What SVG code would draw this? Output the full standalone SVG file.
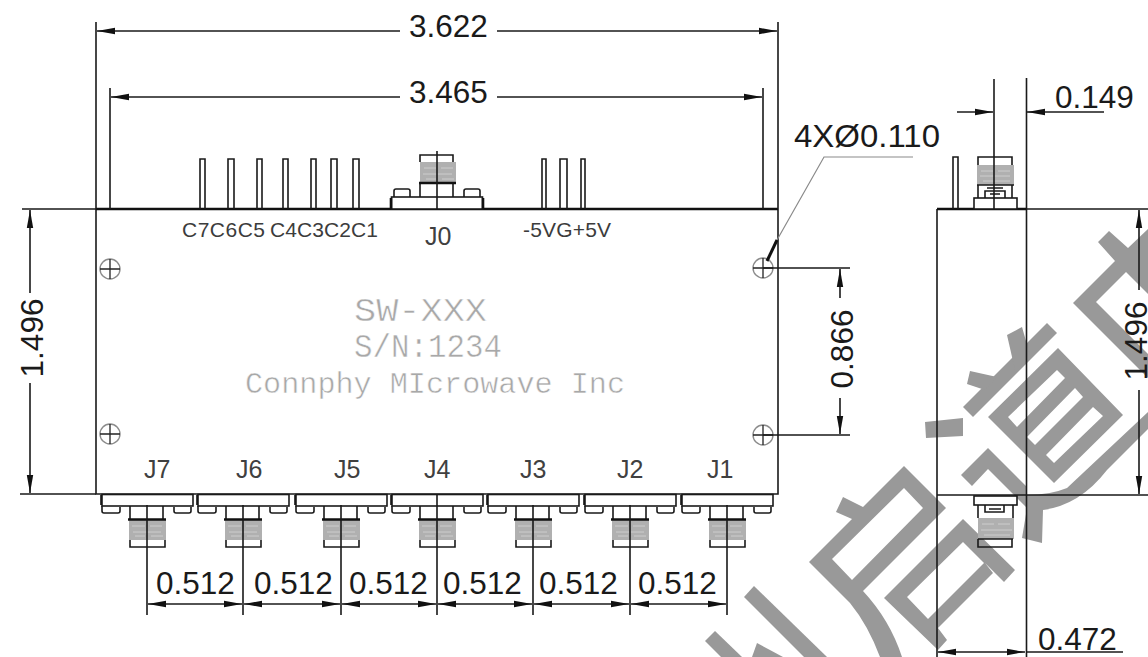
<svg xmlns="http://www.w3.org/2000/svg" xmlns:xlink="http://www.w3.org/1999/xlink" width="1148" height="657" viewBox="0 0 1148 657">
<style>
.l{fill:none;stroke:#1a1a1a;stroke-width:1.6}
.h{fill:none;stroke:#111;stroke-width:2.6}
.t{fill:#b0b0b0;stroke:none}
.tl{stroke:#cdcdcd;stroke-width:1;fill:none}
.f{fill:#fff;stroke:#1a1a1a;stroke-width:1.6}
.d{fill:none;stroke:#1a1a1a;stroke-width:1.6;marker-end:url(#a)}
.n{font-family:"Liberation Sans",Arial,sans-serif;font-size:31.5px;fill:#1a1a1a}
.s{font-family:"Liberation Sans",Arial,sans-serif;font-size:21px;fill:#3c3c3c}
.j{font-family:"Liberation Sans",Arial,sans-serif;font-size:25px;fill:#404040}
.e{font-family:"Liberation Mono",monospace;fill:#a8a8a8;stroke:#fff;stroke-width:.5}
.w{fill:#999;fill-rule:evenodd}
.hole{fill:none;stroke:#8c8c8c;stroke-width:1.4}
.cr{fill:none;stroke:#222;stroke-width:1.3}
</style>
<defs>
<marker id="a" markerUnits="userSpaceOnUse" markerWidth="20" markerHeight="8" refX="18" refY="4" orient="auto"><path d="M0 .8L18 4L0 7.2Z" fill="#111"/></marker>
<g id="conn">
<path class="h" d="M-45.500 495V505"/>
<rect class="f" x="-45" y="494.500" width="91" height="11.500"/>
<path class="l" d="M-45 506V511Q-45 513-43 513H-29Q-27 513-27 511V507M27 507V511Q27 513 29 513H42Q44 513 44 511V507"/>
<path class="l" d="M-17 506V519M16 506V519"/>
<rect class="t" x="-18" y="520" width="37" height="20"/>
<path class="tl" d="M-15 526H-2M3 526H15M-14 532H14M-12 536H-2M4 536H16"/>
<path class="h" d="M-19 519.500H19"/>
<path class="l" d="M-17 540V547H18V540"/>
</g>
<g id="hole"><circle class="hole" cx="0" cy="0" r="10"/><path class="cr" d="M-10 0H10M0-10V10"/></g>
</defs>

<g id="watermark">
<path class="w" d="M904 466L946 508L863 591Q890 620 902 657H880Q868 625 850 603L809 562L852 519L836 512L843 497L863 507ZM904 488L832 559L852 580L923 508Z"/>
<path class="w" d="M884 598L963 519L1015 570L1004 582L985 563L993 573L938 628L947 640L938 650ZM963 542L907 597L928 619L984 563Z"/>
<path class="w" d="M925 422L963 418L963 436L926 438Z"/>
<path class="w" d="M961 475L988 448L1027 487L1027 495Q1050 495 1067 488L1148 412V429L1107 470Q1080 505 1043 510L1042 543L1022 538L1027 508L988 469L972 486Z"/>
<path class="w" d="M1058 348L1123 415L1054 483L988 417ZM1057 370L1008 417L1017 427L1065 378ZM1075 388L1027 437L1035 445L1083 397ZM1093 407L1046 455L1054 463L1103 416Z"/>
<path class="w" d="M1047 323L1057 333L973 417L963 407Z"/>
<path class="w" d="M1007 335L1022 327L1030 355L1015 370Z"/>
<path class="w" d="M970 371L997 377L985 390L967 384Z"/>
<path class="w" d="M1073 303L1115 261L1098 242L1109 231L1128 248L1148 229V378ZM1096 302L1126 272L1148 294V354Z"/>
<path class="w" d="M744 597L754 586L827 657H804Z"/>
<path class="w" d="M705 641L715 631L742 657H721Z"/>
<path class="w" d="M752 657L757 643L783 657Z"/>
</g>

<g id="main-body">
<path class="l" d="M96 209V494H778V209"/>
<path class="h" d="M96 209H778" stroke-width="2"/>
<use xlink:href="#hole" href="#hole" x="110" y="269"/>
<use xlink:href="#hole" href="#hole" x="110" y="434"/>
<use xlink:href="#hole" href="#hole" x="763" y="268"/>
<use xlink:href="#hole" href="#hole" x="763" y="435"/>
<text class="e" x="354" y="321" font-size="34" textLength="133" lengthAdjust="spacingAndGlyphs">SW-XXX</text>
<text class="e" x="354" y="357" font-size="33" textLength="148" lengthAdjust="spacingAndGlyphs">S/N:1234</text>
<text class="e" x="245" y="393" font-size="29" textLength="380" lengthAdjust="spacingAndGlyphs">Connphy MIcrowave Inc</text>
</g>

<g id="pins-c">
<path class="l" d="M200 209V159H205V209M228 209V159H234V209M257 209V159H262V209M283 209V159H288V209M311 209V159H316V209M331 209V159H337V209M353 209V159H359V209"/>
<text class="s" x="182" y="237" textLength="83">C7C6C5</text>
<text class="s" x="270" y="237" textLength="108">C4C3C2C1</text>
</g>

<g id="pins-v">
<path class="l" d="M542 209V159H546V209M560 209V159H567V209M581 209V159H585V209"/>
<text class="s" x="523" y="237" textLength="88">-5VG+5V</text>
</g>

<g id="J0">
<rect class="t" x="420" y="162" width="36" height="21"/>
<path class="tl" d="M424 168H436M441 168H453M423 174H452M426 179H436M442 179H454"/>
<path class="l" d="M420 162V155H453V162M420 183V197M453 183V197"/>
<path class="h" d="M419 183H456"/>
<path class="l" d="M394 197V191Q394 189 396 189H408Q410 189 410 191V197M464 197V191Q464 189 466 189H478Q480 189 480 191V197"/>
<rect class="f" x="391.500" y="197" width="91" height="12"/>
<path class="h" d="M391 198V209M483 198V209"/>
<text class="j" x="425" y="245">J0</text>
</g>

<g id="J7"><use xlink:href="#conn" href="#conn" x="147"/><text class="j" x="144" y="478">J7</text></g>
<g id="J6"><use xlink:href="#conn" href="#conn" x="243"/><text class="j" x="236" y="478">J6</text></g>
<g id="J5"><use xlink:href="#conn" href="#conn" x="341"/><text class="j" x="334" y="478">J5</text></g>
<g id="J4"><use xlink:href="#conn" href="#conn" x="437"/><text class="j" x="424" y="478">J4</text></g>
<g id="J3"><use xlink:href="#conn" href="#conn" x="533"/><text class="j" x="520" y="478">J3</text></g>
<g id="J2"><use xlink:href="#conn" href="#conn" x="630"/><text class="j" x="617" y="478">J2</text></g>
<g id="J1"><use xlink:href="#conn" href="#conn" x="727"/><text class="j" x="707" y="478">J1</text></g>

<g id="side-view">
<path class="l" d="M937 209V657M1026.500 78V657"/>
<path class="h" d="M937 209H1026" stroke-width="2"/>
<path class="l" d="M1026 209H1148M937 495H1148"/>
<path class="l" d="M953 209V157H958V209"/>
<rect class="t" x="977" y="165" width="37" height="20"/>
<path class="tl" d="M981 171H993M998 171H1010M980 176H1010M983 181H1010"/>
<path class="l" d="M978 165V157H1012V165M978 185V198M1012 185V198M985 198V191H1005V198M990 194H1000M987 188H1003"/>
<path class="l" d="M977 185H1014"/>
<rect class="f" x="974" y="198" width="43" height="11"/>
<rect class="f" x="974" y="496" width="43" height="9"/>
<path class="l" d="M978 505V518M1013 505V518M985 505V512H1004V505M989 509H1001"/>
<rect class="t" x="978" y="518" width="36" height="21"/>
<path class="tl" d="M982 524H994M998 524H1010M981 530H1012M984 535H1010"/>
<path class="l" d="M978 539V547H1012V539M978 539H1013"/>
</g>

<g id="connectors">
<path class="l" d="M96 22V209M778 22V209M110 88V209M763 88V209M22 209H96M20 494H96"/>
<path class="d" d="M400 31H97"/><path class="d" d="M497 31H777"/>
<path class="d" d="M400 97H111"/><path class="d" d="M497 97H762"/>
<path class="d" d="M30 293V210"/><path class="d" d="M30 383V493"/>
<path class="l" d="M147 505V615M243 505V615M341 505V615M437 151V209M437 494V615M533 505V615M630 505V615M727 505V615"/>
<path class="d" d="M195 604H148"/><path class="d" d="M195 604H242"/>
<path class="d" d="M292 604H244"/><path class="d" d="M292 604H340"/>
<path class="d" d="M389 604H342"/><path class="d" d="M389 604H436"/>
<path class="d" d="M485 604H438"/><path class="d" d="M485 604H532"/>
<path class="d" d="M581 604H534"/><path class="d" d="M581 604H629"/>
<path class="d" d="M678 604H631"/><path class="d" d="M678 604H726"/>
<path class="l" d="M763 268H850M763 435H850"/>
<path class="d" d="M840 298V269"/><path class="d" d="M840 398V434"/>
<path d="M913 157H824L777 240" fill="none" stroke="#8a8a8a" stroke-width="1.200"/>
<path d="M777 240L767 261" fill="none" stroke="#111" stroke-width="3"/>
<path class="l" d="M994 79V209"/>
<path class="d" d="M957 112H993"/><path class="d" d="M1104 112H1027"/>
<path class="d" d="M985 652H938"/><path class="d" d="M985 652H1025"/>
<path class="l" d="M1026 652H1123"/>
<path class="d" d="M1139 290V210"/><path class="d" d="M1139 390V494"/>
</g>

<g id="dimension-labels">
<text class="n" x="409" y="37">3.622</text>
<text class="n" x="409" y="103">3.465</text>
<text class="n" x="794" y="147" textLength="146" lengthAdjust="spacingAndGlyphs">4XØ0.110</text>
<text class="n" x="1055" y="108">0.149</text>
<text class="n" x="1038" y="650">0.472</text>
<text class="n" x="156" y="594">0.512</text>
<text class="n" x="254" y="594">0.512</text>
<text class="n" x="349" y="594">0.512</text>
<text class="n" x="443" y="594">0.512</text>
<text class="n" x="539" y="594">0.512</text>
<text class="n" x="638" y="594">0.512</text>
<text class="n" transform="translate(43 338) rotate(-90)" text-anchor="middle">1.496</text>
<text class="n" transform="translate(853 349) rotate(-90)" text-anchor="middle">0.866</text>
<text class="n" transform="translate(1147 341) rotate(-90)" text-anchor="middle">1.496</text>
</g>
</svg>
